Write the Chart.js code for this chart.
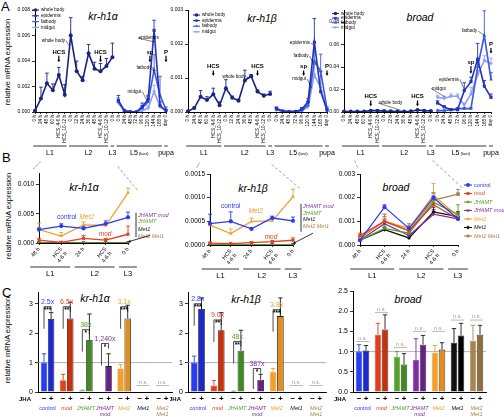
<!DOCTYPE html>
<html>
<head>
<meta charset="utf-8">
<title>kr-h1 / broad expression</title>
<script src="https://cdn.jsdelivr.net/npm/chart.js@4.4.1/dist/chart.umd.min.js"></script>
<style>
  body { margin:0; width:504px; height:417px; position:relative; overflow:hidden; background:#fff;
         font-family:"Liberation Sans", Arial, sans-serif; }
  canvas { position:absolute; }
  .lbl { position:absolute; white-space:nowrap; line-height:1; color:#000; }
  .panel { font-size:13px; }
  .title { font-size:10.5px; font-style:italic; transform:translate(-50%,-50%); }
  .ytitle { font-size:7.5px; transform:translate(-50%,-50%) rotate(-90deg); }
  .zoomline { position:absolute; height:0; border-top:1px dashed #b8b8b8; transform-origin:0 0; }
</style>
</head>
<body>
<div class="lbl panel" style="left:1px;top:0px">A</div>
<div class="lbl panel" style="left:2px;top:151px">B</div>
<div class="lbl panel" style="left:2px;top:286px">C</div>

<div class="lbl ytitle" style="left:8px;top:62px">relative mRNA expression</div>
<div class="lbl ytitle" style="left:9px;top:216px">relative mRNA expression</div>
<div class="lbl ytitle" style="left:8px;top:340px">relative mRNA expression</div>

<div class="lbl title" style="left:103px;top:16px">kr-h1α</div>
<div class="lbl title" style="left:262px;top:18px">kr-h1β</div>
<div class="lbl title" style="left:420px;top:17px">broad</div>
<div class="lbl title" style="left:84px;top:187px">kr-h1α</div>
<div class="lbl title" style="left:253px;top:188px">kr-h1β</div>
<div class="lbl title" style="left:396px;top:187px">broad</div>
<div class="lbl title" style="left:95px;top:298px">kr-h1α</div>
<div class="lbl title" style="left:246px;top:299px">kr-h1β</div>
<div class="lbl title" style="left:408px;top:299px">broad</div>

<script>
var FONT = '"Liberation Sans", Arial, sans-serif';
Chart.defaults.font.family = FONT;
Chart.defaults.color = '#000';

// ---------- A: developmental time course ----------
var timeA = ['0 h', '24 h', '48 h', '60 h', 'HCS_4-6 h', 'HCS_10-12 h', '0 h', '12 h', '24 h', '36 h', '48 h',
             'HCS_4-6 h', 'HCS_10-12 h', '0 h', '0 h', '24 h', '48 h', '72 h', '96 h', '120 h', '144 h', '168 h', 'day 0'];
var stageA = ['L1', 'L2', 'L3', 'L5', 'pupa'];
var stageFromA = [0, 6, 13, 14, 22];
var stageToA = [5, 12, 13, 21, 22];
var tissuesA = ['whole body', 'epidermis', 'fatbody', 'midgut'];

// whole body: L1..L3 (14 points); tissues: L5..pupa (9 points)
var krh1a_whole = [0.0001, 0.00105, 0.00225, 0.0017, 0.0029, 0.00135, 0.0060, 0.0032, 0.0025, 0.0046, 0.0034, 0.0032, 0.0036, 0.0043];
var krh1a_wholeErr = [0.00005, 0.0009, 0.0008, 0.0005, 0.0006, 0.0008, 0.0014, 0.0008, 0.0003, 0.0007, 0.0005, 0.0006, 0.0006, 0.0011];
var krh1a_epi = [0.0009, 0.0001, 0.00002, 0.00001, 0.0004, 0.0010, 0.0064, 0.0005, 0.0001];
var krh1a_epiErr = [0.0004, 0.0001, 0, 0, 0.0003, 0.0003, 0.0008, 0.0003, 0.0001];
var krh1a_fat = [0.0008, 0.0001, 0.00002, 0.00001, 0.0003, 0.0008, 0.0033, 0.0013, 0.0002];
var krh1a_fatErr = [0.0003, 0.0001, 0, 0, 0.0002, 0.0004, 0.0012, 0.0015, 0.0002];
var krh1a_mid = [0.0007, 0.0001, 0.00002, 0.00001, 0.0001, 0.0003, 0.0016, 0.0004, 0.0001];
var krh1a_midErr = [0.0002, 0.0001, 0, 0, 0.0001, 0.0002, 0.0005, 0.0003, 0.0001];

var krh1b_whole = [0.00002, 0.00012, 0.00045, 0.00035, 0.00052, 0.0002, 0.0007, 0.00042, 0.00033, 0.00093, 0.00105, 0.0006, 0.00048, 0.00053];
var krh1b_wholeErr = [0.00001, 0.00003, 0.00018, 0.0001, 0.00018, 0.0001, 0.00025, 0.00005, 0.00005, 0.0003, 0.00005, 0.00005, 0.00005, 0.00008];
var krh1b_epi = [0.0001, 0.00003, 0.00001, 0.00001, 0.00008, 0.0003, 0.00205, 0.0006, 0.00005];
var krh1b_epiErr = [0.00005, 0.00001, 0, 0, 0.00005, 0.0001, 0.0007, 0.0006, 0.00005];
var krh1b_fat = [0.00008, 0.00002, 0.00001, 0.00001, 0.00005, 0.0002, 0.0015, 0.0012, 0.0001];
var krh1b_fatErr = [0.00004, 0.00001, 0, 0, 0.00003, 0.0001, 0.0003, 0.0005, 0.00005];
var krh1b_mid = [0.00006, 0.00002, 0.00001, 0.00001, 0.00003, 0.00015, 0.0011, 0.0007, 0.00008];
var krh1b_midErr = [0.00003, 0.00001, 0, 0, 0.00002, 0.0001, 0.0003, 0.0003, 0.00004];

var broad_whole = [0.0004, 0.0004, 0.0005, 0.0005, 0.0012, 0.0012, 0.0008, 0.0006, 0.0005, 0.0005, 0.0006, 0.0018, 0.0012, 0.0009];
var broad_wholeErr = [0.0002, 0.0002, 0.0002, 0.0002, 0.0004, 0.0003, 0.0002, 0.0002, 0.0002, 0.0002, 0.0002, 0.0004, 0.0003, 0.0002];
var broad_epi = [0.008, 0.0045, 0.002, 0.002, 0.019, 0.027, 0.047, 0.023, 0.013];
var broad_epiErr = [0.002, 0.001, 0.001, 0.001, 0.007, 0.004, 0.014, 0.005, 0.003];
var broad_fat = [0.0012, 0.0012, 0.002, 0.003, 0.003, 0.003, 0.040, 0.068, 0.029];
var broad_fatErr = [0.0005, 0.0005, 0.0005, 0.001, 0.001, 0.001, 0.006, 0.022, 0.006];
var broad_mid = [0.013, 0.012, 0.014, 0.014, 0.006, 0.016, 0.033, 0.046, 0.043];
var broad_midErr = [0.002, 0.002, 0.002, 0.002, 0.002, 0.006, 0.004, 0.004, 0.005];

// ---------- B: knock-out lines, L1-L3 ----------
var timeB = [['48 h'], ['HCS', '4-6 h'], ['24 h'], ['HCS', '4-6 h'], ['0 h']];
var stageB = ['L1', 'L2', 'L3'];
var stageFromB = [0, 2, 4];
var stageToB = [1, 3, 4];
var genotypes = ['control', 'mod', 'JHAMT', 'JHAMT mod', 'Met2', 'Met1', 'Met2 Met1'];

var krh1aB = [
  [0.0023, 0.0029, 0.0025, 0.0033, 0.0044],
  [0.0005, 0.0001, 0.0008, 0.0005, 0.0015],
  [0.00003, 0.00002, 0.00003, 0.00002, 0.00003],
  [0.00001, 0.00001, 0.00001, 0.00001, 0.00001],
  [0.0023, 0.0012, 0.0031, 0.0030, 0.0086],
  [0.00001, 0.00001, 0.00001, 0.00001, 0.00001],
  [0.00001, 0.00001, 0.00001, 0.00001, 0.00001]
];
var krh1aBErr = [
  [0.0003, 0.0004, 0.0003, 0.0005, 0.0009],
  [0.0003, 0.0002, 0.0005, 0.0003, 0.0014],
  [0, 0, 0, 0, 0], [0, 0, 0, 0, 0],
  [0.0011, 0.0006, 0.0005, 0.0004, 0.0008],
  [0, 0, 0, 0, 0], [0, 0, 0, 0, 0]
];
var krh1bB = [
  [0.00045, 0.0005, 0.00034, 0.00057, 0.00051],
  [0.00004, 0.00003, 0.00005, 0.00007, 0.0001],
  [0.000005, 0.000005, 0.000005, 0.000005, 0.000005],
  [0.000003, 0.000003, 0.000003, 0.000003, 0.000003],
  [0.00042, 0.00024, 0.0005, 0.00051, 0.00102],
  [0.000003, 0.000003, 0.000003, 0.000003, 0.000003],
  [0.000003, 0.000003, 0.000003, 0.000003, 0.000003]
];
var krh1bBErr = [
  [0.0002, 0.0002, 0.00002, 0.00004, 0.00008],
  [0.00002, 0.00001, 0.00002, 0.00002, 0.00005],
  [0, 0, 0, 0, 0], [0, 0, 0, 0, 0],
  [0.00003, 0.0001, 0.00007, 0.00004, 0.00016],
  [0, 0, 0, 0, 0], [0, 0, 0, 0, 0]
];
var broadB = [
  [0.0002, 0.0016, 0.0007, 0.0020, 0.0011],
  [0.0004, 0.0010, 0.0006, 0.0017, 0.0011],
  [0.0002, 0.0007, 0.0005, 0.0018, 0.0013],
  [0.0002, 0.0009, 0.0004, 0.0013, 0.0011],
  [0.0003, 0.0010, 0.0007, 0.0021, 0.0012],
  [0.0002, 0.00065, 0.0003, 0.0014, 0.0012],
  [0.0003, 0.0010, 0.0006, 0.0019, 0.00215]
];
var broadBErr = [
  [0.0001, 0.0001, 0.0002, 0.0002, 0.0002],
  [0.0001, 0.0002, 0.0002, 0.0003, 0.0002],
  [0.0001, 0.0001, 0.0001, 0.0003, 0.0004],
  [0.0001, 0.0002, 0.0001, 0.0002, 0.0002],
  [0.0001, 0.0003, 0.0002, 0.0005, 0.0002],
  [0.0001, 0.0001, 0.0001, 0.0002, 0.0002],
  [0.0001, 0.0003, 0.0002, 0.0003, 0.0002]
];

// ---------- C: JHA treatment, fold of untreated control ----------
var krh1aMinus = [1.0, 0.4, 0.05, 0.0, 0.8, 0.0, 0.0];
var krh1aMinusErr = [0.3, 0.2, 0.01, 0, 0.13, 0, 0];
var krh1aPlus = [2.48, 2.5, 1.77, 0.88, 2.5, 0.0, 0.0];
var krh1aPlusErr = [0.22, 0.55, 0.88, 0.42, 0.45, 0, 0];
var krh1aSig = ['***', '**', '*', '*', '***', 'n.s.', 'n.s.'];
var krh1aFold = ['2.5x', '6.5x', '38x', '1,240x', '3.1x', '', ''];

var krh1bMinus = [1.0, 0.22, 0.02, 0.0, 0.68, 0.0, 0.0];
var krh1bMinusErr = [0.22, 0.17, 0.01, 0, 0.12, 0, 0];
var krh1bPlus = [2.82, 2.1, 1.4, 0.42, 2.58, 0.0, 0.0];
var krh1bPlusErr = [0.38, 0.6, 0.7, 0.18, 0.62, 0, 0];
var krh1bSig = ['***', '**', '**', '*', '***', 'n.s.', 'n.s.'];
var krh1bFold = ['2.8x', '9.0x', '48x', '387x', '3.8x', '', ''];

var broadMinus = [1.0, 1.42, 0.87, 0.8, 0.97, 1.22, 1.27];
var broadMinusErr = [0.17, 0.28, 0.13, 0.52, 0.18, 0.35, 0.38];
var broadPlus = [1.03, 1.55, 0.68, 1.17, 1.05, 1.4, 1.42];
var broadPlusErr = [0.12, 0.36, 0.27, 0.23, 0.17, 0.3, 0.23];
var broadSig = ['n.s.', 'n.s.', 'n.s.', 'n.s.', 'n.s.', 'n.s.', 'n.s.'];
var broadFold = ['', '', '', '', '', '', ''];

// colours
var tissueColors = ['#1b2480', '#2334b8', '#3d57e6', '#8f9ef4'];
var genoColors = ['#2a3cf2', '#e0401c', '#55a02e', '#7d2ea0', '#f0a030', '#111111', '#a88550'];
var genoDark = ['#1a2ad0', '#c9300e', '#3f8a22', '#65208a', '#e08e22', '#000000', '#8f6f3e'];

// ---------- helpers ----------
function pad(arr, before, after) {
  var out = [];
  for (var i = 0; i < before; i++) out.push(null);
  out = out.concat(arr);
  for (var j = 0; j < after; j++) out.push(null);
  return out;
}

function makeCanvas(box) {
  var c = document.createElement('canvas');
  c.width = box.w; c.height = box.h;
  c.style.left = box.l + 'px'; c.style.top = box.t + 'px';
  c.style.width = box.w + 'px'; c.style.height = box.h + 'px';
  document.body.appendChild(c);
  return c;
}

// layout padding so that the plot area lands on "area" (page pixels)
function padFor(box, area, yW, xH) {
  return { left: area.l - box.l - yW, top: area.t - box.t, right: box.l + box.w - area.r, bottom: box.t + box.h - area.b - xH };
}

function yScale(max, step, digits, size, yW) {
  return {
    min: 0, max: max,
    ticks: { stepSize: step, includeBounds: false, font: { size: size }, padding: 2,
             callback: function (v) { return v.toFixed(digits); } },
    grid: { drawOnChartArea: false, color: '#000', lineWidth: 0.8, tickLength: 3 },
    border: { color: '#000', width: 1 },
    afterFit: function (s) { s.width = yW; }
  };
}

function xScale(rot, size, xH, offset, show) {
  return {
    type: 'category', offset: offset,
    ticks: { display: show, autoSkip: false, maxRotation: rot, minRotation: rot, font: { size: size }, padding: 1 },
    grid: { display: show, drawOnChartArea: false, color: '#000', lineWidth: 0.8, tickLength: 2 },
    border: { display: true, color: '#000', width: 1 },
    afterFit: function (s) { s.height = xH; }
  };
}

function line(ctx, x1, y1, x2, y2) {
  ctx.beginPath(); ctx.moveTo(x1, y1); ctx.lineTo(x2, y2); ctx.stroke();
}

function arrow(ctx, x1, y1, x2, y2, col, head, lw) {
  ctx.strokeStyle = col; ctx.fillStyle = col; ctx.lineWidth = lw || 0.9;
  var ang = Math.atan2(y2 - y1, x2 - x1);
  line(ctx, x1, y1, x2 - head * 0.6 * Math.cos(ang), y2 - head * 0.6 * Math.sin(ang));
  ctx.beginPath(); ctx.moveTo(x2, y2);
  ctx.lineTo(x2 - head * Math.cos(ang - 0.5), y2 - head * Math.sin(ang - 0.5));
  ctx.lineTo(x2 - head * Math.cos(ang + 0.5), y2 - head * Math.sin(ang + 0.5));
  ctx.closePath(); ctx.fill();
}

// error bars, notes, stage bars, legends and brackets drawn on top of the chart
function extras(cfg) {
  return {
    id: 'extras',
    beforeDatasetsDraw: function (chart) {
      var ctx = chart.ctx, ys = chart.scales.y, a = chart.chartArea;
      ctx.save();
      if (cfg.refLine != null) {
        ctx.strokeStyle = '#a0a0a0'; ctx.lineWidth = 0.8;
        var ry = ys.getPixelForValue(cfg.refLine);
        line(ctx, a.left, ry, a.right, ry);
      }
      (cfg.errors || []).forEach(function (err, di) {
        if (!err) return;
        var ds = chart.data.datasets[di], meta = chart.getDatasetMeta(di);
        var col = (cfg.errColors && cfg.errColors[di]) || ds.borderColor;
        meta.data.forEach(function (el, i) {
          var v = ds.data[i];
          if (v == null || !err[i]) return;
          var top = ys.getPixelForValue(v + err[i]);
          var cap = cfg.cap || 2;
          ctx.strokeStyle = Array.isArray(col) ? col[i] : col;
          ctx.lineWidth = cfg.errWidth || 0.9;
          ctx.beginPath();
          ctx.moveTo(el.x, el.y); ctx.lineTo(el.x, top);
          ctx.moveTo(el.x - cap, top); ctx.lineTo(el.x + cap, top);
          ctx.stroke();
        });
      });
      ctx.restore();
    },
    afterDraw: function (chart) {
      var ctx = chart.ctx, xs = chart.scales.x, ys = chart.scales.y, a = chart.chartArea;
      ctx.save();
      ctx.textBaseline = 'middle';

      (cfg.notes || []).forEach(function (n) {
        var px = n.right != null ? a.right + n.right : xs.getPixelForValue(n.x);
        var py = ys.getPixelForValue(n.y);
        var size = n.size || 5;
        var col = n.color || '#000';
        ctx.font = (n.italic ? 'italic ' : '') + (n.bold ? 'bold ' : '') + size + 'px ' + FONT;
        ctx.fillStyle = col;
        ctx.textAlign = n.align || 'center';
        ctx.fillText(n.text, px, py);
        var w = ctx.measureText(n.text).width;
        if (n.arrowTo != null) arrow(ctx, px, py + size * 0.6, px, ys.getPixelForValue(n.arrowTo), col, 3, 1.2);
        if (n.lineTo) {
          var tx = xs.getPixelForValue(n.lineTo[0]), ty = ys.getPixelForValue(n.lineTo[1]);
          var left = n.align === 'left' ? px : px - w / 2;
          var sx = tx > left + w ? left + w + 1 : left - 1;
          ctx.strokeStyle = '#000'; ctx.lineWidth = 0.5;
          line(ctx, sx, py, tx, ty);
        }
      });

      if (cfg.side) {
        var S = cfg.side;
        ctx.strokeStyle = '#000'; ctx.lineWidth = 0.8;
        line(ctx, a.right + S.dx, ys.getPixelForValue(S.from), a.right + S.dx, ys.getPixelForValue(S.to));
        arrow(ctx, a.right + S.ax, ys.getPixelForValue(S.ay), xs.getPixelForValue(S.tx), ys.getPixelForValue(S.ty), '#000', 3, 0.8);
      }

      if (cfg.legend) {
        var L = cfg.legend;
        var lx = (L.outside ? a.right : a.left) + L.dx;
        chart.data.datasets.forEach(function (ds, i) {
          var yy = a.top + L.dy + i * L.gap;
          ctx.strokeStyle = ds.borderColor; ctx.fillStyle = ds.borderColor; ctx.lineWidth = 1.1;
          line(ctx, lx, yy, lx + L.len, yy);
          Chart.helpers.drawPoint(ctx, { pointStyle: ds.pointStyle, radius: L.r, rotation: ds.pointRotation || 0, borderWidth: 0 }, lx + L.len / 2, yy);
          ctx.font = (L.italic && i > 0 ? 'italic ' : '') + L.size + 'px ' + FONT;
          ctx.fillStyle = L.textColors ? L.textColors[i] : '#000';
          ctx.textAlign = 'left';
          ctx.fillText(ds.label, lx + L.len + 2, yy);
        });
      }

      if (cfg.groups) {
        var g = cfg.groups;
        var step = xs.getPixelForValue(1) - xs.getPixelForValue(0);
        g.labels.forEach(function (lab, k) {
          var x1 = xs.getPixelForValue(g.from[k]) - step * g.ext;
          var x2 = xs.getPixelForValue(g.to[k]) + step * g.ext;
          var ly = a.bottom + g.dy;
          ctx.strokeStyle = '#000'; ctx.lineWidth = 0.8;
          line(ctx, x1, ly, x2, ly);
          var cx = (x1 + x2) / 2;
          ctx.fillStyle = '#000';
          ctx.font = g.size + 'px ' + FONT;
          var sub = g.sub ? g.sub[k] : '';
          if (sub) {
            var w1 = ctx.measureText(lab).width;
            ctx.font = (g.size * 0.62) + 'px ' + FONT;
            var w2 = ctx.measureText(sub).width;
            var sx = cx - (w1 + w2 + 1) / 2;
            ctx.textAlign = 'left';
            ctx.font = g.size + 'px ' + FONT;
            ctx.fillText(lab, sx, ly + g.ty);
            ctx.font = (g.size * 0.62) + 'px ' + FONT;
            ctx.fillText(sub, sx + w1 + 1, ly + g.ty + 1);
          } else {
            ctx.textAlign = 'center';
            ctx.fillText(lab, cx, ly + g.ty);
          }
        });
      }

      if (cfg.pairs) {
        var P = cfg.pairs, m0 = chart.getDatasetMeta(0).data, m1 = chart.getDatasetMeta(1).data;
        var yb = a.bottom;
        ctx.textAlign = 'center'; ctx.textBaseline = 'middle';
        ctx.font = 'bold 6px ' + FONT; ctx.fillStyle = '#000';
        ctx.fillText('JHA', a.left - 13, yb + 7);
        chart.data.labels.forEach(function (lab, i) {
          var xm = m0[i].x, xp = m1[i].x, cx = (xm + xp) / 2, col = genoColors[i];
          ctx.textBaseline = 'middle';
          ctx.font = 'bold 8px ' + FONT; ctx.fillStyle = '#000';
          ctx.fillText('\u2212', xm, yb + 7); ctx.fillText('+', xp, yb + 7);
          ctx.font = (i === 0 ? '' : 'italic ') + '5.5px ' + FONT; ctx.fillStyle = col;
          lab.split(' ').forEach(function (p, k) { ctx.fillText(p, cx, yb + 16 + k * 6); });
          var h = P.heights[i];
          if (h == null) return;
          var yB = ys.getPixelForValue(h);
          if (P.sig[i] === 'n.s.') {
            ctx.strokeStyle = '#9a9a9a'; ctx.lineWidth = 0.7;
            line(ctx, xm - 3, yB, xp + 3, yB);
            ctx.font = '5.5px ' + FONT; ctx.fillStyle = '#9a9a9a'; ctx.textBaseline = 'bottom';
            ctx.fillText('n.s.', cx, yB - 0.5);
          } else {
            var minusTop = ys.getPixelForValue(chart.data.datasets[0].data[i] + P.errMinus[i]);
            var legEnd = Math.min(yB + 22, minusTop - 3);
            ctx.strokeStyle = '#000'; ctx.lineWidth = 0.7;
            ctx.beginPath(); ctx.moveTo(xm, legEnd); ctx.lineTo(xm, yB); ctx.lineTo(xp, yB); ctx.lineTo(xp, yB + 5); ctx.stroke();
            ctx.font = 'bold 6.5px ' + FONT; ctx.fillStyle = '#000'; ctx.textBaseline = 'top';
            ctx.fillText(P.sig[i], cx, yB + 0.5);
            ctx.font = '7px ' + FONT; ctx.fillStyle = col; ctx.textBaseline = 'bottom';
            ctx.fillText(P.fold[i], cx, yB - 1);
          }
        });
      }
      ctx.restore();
    }
  };
}

// ---------- chart builders ----------
function timeChart(box, area, s) {
  var series = [pad(s.whole, 0, 9), pad(s.epi, 14, 0), pad(s.fat, 14, 0), pad(s.mid, 14, 0)];
  var errs = [pad(s.wholeErr, 0, 9), pad(s.epiErr, 14, 0), pad(s.fatErr, 14, 0), pad(s.midErr, 14, 0)];
  var styles = ['circle', 'rect', 'triangle', 'triangle'];
  var datasets = tissuesA.map(function (name, i) {
    return {
      label: name, data: series[i], borderColor: tissueColors[i], backgroundColor: tissueColors[i],
      pointBackgroundColor: tissueColors[i], pointBorderWidth: 0, pointStyle: styles[i],
      pointRotation: i === 3 ? 180 : 0, pointRadius: i === 0 ? 2 : 2.2, borderWidth: 1.6, spanGaps: false
    };
  });
  new Chart(makeCanvas(box), {
    type: 'line',
    data: { labels: timeA, datasets: datasets },
    options: {
      responsive: false, animation: false,
      layout: { padding: padFor(box, area, 20, 34) },
      plugins: { legend: { display: false }, tooltip: { enabled: false } },
      scales: { x: xScale(90, 4.6, 34, false, true), y: yScale(s.max, s.step, s.digits, 5, 20) }
    },
    plugins: [extras({
      errors: errs, cap: 1.8, notes: s.notes, legend: s.legend,
      groups: { labels: stageA, sub: ['', '', '', '(last)', ''], from: stageFromA, to: stageToA, ext: 0.3, dy: 34, ty: 7, size: 7 }
    })]
  });
}

function genoChart(box, area, s) {
  var styles = ['circle', 'rect', 'triangle', 'triangle', 'triangle', 'rectRot', 'rect'];
  var datasets = genotypes.map(function (name, i) {
    return {
      label: name, data: s.values[i], borderColor: genoColors[i], backgroundColor: genoColors[i],
      pointBackgroundColor: genoColors[i], pointBorderWidth: 0, pointStyle: styles[i],
      pointRotation: i === 3 ? 180 : 0, pointRadius: i === 6 ? 2.6 : 2.1, borderWidth: 1.3
    };
  });
  new Chart(makeCanvas(box), {
    type: 'line',
    data: { labels: timeB, datasets: datasets },
    options: {
      responsive: false, animation: false,
      layout: { padding: padFor(box, area, s.yW, 22) },
      plugins: { legend: { display: false }, tooltip: { enabled: false } },
      scales: { x: xScale(50, 5.5, 22, false, true), y: yScale(s.max, s.step, s.digits, 6.5, s.yW) }
    },
    plugins: [extras({
      errors: s.errors, cap: 2, notes: s.notes, side: s.side, legend: s.legend,
      groups: { labels: stageB, from: stageFromB, to: stageToB, ext: 0.4, dy: 24, ty: 6.5, size: 7.5 }
    })]
  });
}

function jhaChart(box, area, s) {
  new Chart(makeCanvas(box), {
    type: 'bar',
    data: {
      labels: genotypes,
      datasets: [
        { label: '\u2212', data: s.minus, backgroundColor: genoColors, borderColor: genoColors, borderWidth: 0.6,
          categoryPercentage: 0.74, barPercentage: 0.92 },
        { label: '+', data: s.plus, backgroundColor: genoDark, borderColor: '#1a1a1a', borderWidth: 0.8,
          categoryPercentage: 0.74, barPercentage: 0.92 }
      ]
    },
    options: {
      responsive: false, animation: false,
      layout: { padding: padFor(box, area, s.yW, 1) },
      plugins: { legend: { display: false }, tooltip: { enabled: false } },
      scales: { x: xScale(0, 6, 1, true, false), y: yScale(s.max, s.step, s.digits, 7, s.yW) }
    },
    plugins: [extras({
      refLine: 1, errors: [s.minusErr, s.plusErr], cap: 2.2,
      errColors: [genoColors, genoColors.map(function () { return '#1a1a1a'; })],
      pairs: { heights: s.heights, sig: s.sig, fold: s.fold, errMinus: s.minusErr }
    })]
  });
}

// ---------- A ----------
timeChart({ l: 12, t: 0, w: 170, h: 160 }, { l: 35, t: 10, r: 166, b: 112 }, {
  whole: krh1a_whole, wholeErr: krh1a_wholeErr, epi: krh1a_epi, epiErr: krh1a_epiErr,
  fat: krh1a_fat, fatErr: krh1a_fatErr, mid: krh1a_mid, midErr: krh1a_midErr,
  max: 0.008, step: 0.002, digits: 3,
  legend: { dx: -3, dy: 0, gap: 5.8, len: 7, r: 1.7, size: 4.6 },
  notes: [
    { x: 3.1, y: 0.0056, text: 'whole body', size: 4.6, lineTo: [5.7, 0.0052] },
    { x: 4, y: 0.0047, text: 'HCS', bold: true, size: 6, arrowTo: 0.0039 },
    { x: 11, y: 0.0047, text: 'HCS', bold: true, size: 6, arrowTo: 0.0039 },
    { x: 19.1, y: 0.0058, text: 'epidermis', size: 4.6, lineTo: [20, 0.0055] },
    { x: 18.3, y: 0.0035, text: 'fatbody', size: 4.6, lineTo: [20, 0.0031] },
    { x: 16.7, y: 0.0016, text: 'midgut', size: 4.6, lineTo: [18.8, 0.0009] },
    { x: 19.3, y: 0.0047, text: 'sp', bold: true, size: 6, arrowTo: 0.0039 },
    { x: 22, y: 0.0047, text: 'P', bold: true, size: 6, arrowTo: 0.0039 }
  ]
});

timeChart({ l: 166, t: 0, w: 172, h: 160 }, { l: 188, t: 10, r: 327, b: 112 }, {
  whole: krh1b_whole, wholeErr: krh1b_wholeErr, epi: krh1b_epi, epiErr: krh1b_epiErr,
  fat: krh1b_fat, fatErr: krh1b_fatErr, mid: krh1b_mid, midErr: krh1b_midErr,
  max: 0.003, step: 0.001, digits: 3,
  legend: { dx: 5, dy: 5, gap: 5.6, len: 7, r: 1.7, size: 4.6 },
  notes: [
    { x: 7.3, y: 0.00105, text: 'whole body', size: 4.6, lineTo: [9.6, 0.00097] },
    { x: 4, y: 0.00133, text: 'HCS', bold: true, size: 6, arrowTo: 0.00106 },
    { x: 11, y: 0.00133, text: 'HCS', bold: true, size: 6, arrowTo: 0.00106 },
    { x: 17.7, y: 0.00204, text: 'epidermis', size: 4.6, lineTo: [20, 0.00195] },
    { x: 17.9, y: 0.00165, text: 'fatbody', size: 4.6, lineTo: [19.9, 0.0014] },
    { x: 17.6, y: 0.00097, text: 'midgut', size: 4.6, lineTo: [19.6, 0.0007] },
    { x: 18.3, y: 0.00133, text: 'sp', bold: true, size: 6, arrowTo: 0.00106 },
    { x: 22, y: 0.00133, text: 'P', bold: true, size: 6, arrowTo: 0.00106 }
  ]
});

timeChart({ l: 322, t: 0, w: 182, h: 160 }, { l: 344, t: 10, r: 491, b: 112 }, {
  whole: broad_whole, wholeErr: broad_wholeErr, epi: broad_epi, epiErr: broad_epiErr,
  fat: broad_fat, fatErr: broad_fatErr, mid: broad_mid, midErr: broad_midErr,
  max: 0.0907, step: 0.02, digits: 2,
  legend: { dx: -12, dy: 3.5, gap: 4.6, len: 7, r: 1.7, size: 4.6 },
  notes: [
    { x: 7, y: 0.008, text: 'whole body', size: 4.6, lineTo: [8.5, 0.0015] },
    { x: 4, y: 0.0135, text: 'HCS', bold: true, size: 6, arrowTo: 0.005 },
    { x: 11, y: 0.0135, text: 'HCS', bold: true, size: 6, arrowTo: 0.005 },
    { x: 15.7, y: 0.029, text: 'epidermis', size: 4.6, lineTo: [18, 0.02] },
    { x: 14.2, y: 0.021, text: 'midgut', size: 4.6, lineTo: [15.1, 0.0135] },
    { x: 18.8, y: 0.072, text: 'fatbody', size: 4.6, lineTo: [21, 0.068] },
    { x: 19, y: 0.044, text: 'sp', bold: true, size: 6, arrowTo: 0.034 },
    { x: 22, y: 0.060, text: 'P', bold: true, size: 6, arrowTo: 0.052 }
  ]
});

// ---------- B ----------
genoChart({ l: 12, t: 165, w: 165, h: 115 }, { l: 39, t: 173, r: 128, b: 243 }, {
  values: krh1aB, errors: krh1aBErr, max: 0.012, step: 0.005, digits: 3, yW: 22,
  notes: [
    { x: 1.25, y: 0.0044, text: 'control', color: genoColors[0], size: 6.5 },
    { x: 2.15, y: 0.0045, text: 'Met2', color: genoColors[4], italic: true, size: 6.5 },
    { x: 2.97, y: 0.0015, text: 'mod', color: genoColors[1], italic: true, size: 6.5 },
    { right: 10, y: 0.00466, text: 'JHAMT mod', color: genoColors[3], italic: true, size: 5.5, align: 'left' },
    { right: 10, y: 0.00362, text: 'JHAMT', color: genoColors[2], italic: true, size: 5.5, align: 'left' },
    { right: 10, y: 0.0024, text: 'Met1', color: genoColors[5], italic: true, size: 5.5, align: 'left' },
    { right: 10, y: 0.0012, text: 'Met2 Met1', color: genoColors[6], italic: true, size: 5.5, align: 'left' }
  ],
  side: { dx: 8, from: 0.0052, to: 0.0010, ax: 22, ay: 0.0013, tx: 4, ty: 0.0002 }
});

genoChart({ l: 175, t: 165, w: 160, h: 115 }, { l: 210, t: 174, r: 293, b: 245 }, {
  values: krh1bB, errors: krh1bBErr, max: 0.0015, step: 0.0005, digits: 4, yW: 25,
  notes: [
    { x: 1.0, y: 0.00081, text: 'control', color: genoColors[0], size: 6.5 },
    { x: 2.2, y: 0.00072, text: 'Met2', color: genoColors[4], italic: true, size: 6.5 },
    { x: 2.94, y: 0.000175, text: 'mod', color: genoColors[1], italic: true, size: 6.5 },
    { right: 10, y: 0.00081, text: 'JHAMT mod', color: genoColors[3], italic: true, size: 5.5, align: 'left' },
    { right: 10, y: 0.00067, text: 'JHAMT', color: genoColors[2], italic: true, size: 5.5, align: 'left' },
    { right: 10, y: 0.00053, text: 'Met1', color: genoColors[5], italic: true, size: 5.5, align: 'left' },
    { right: 10, y: 0.00039, text: 'Met2 Met1', color: genoColors[6], italic: true, size: 5.5, align: 'left' }
  ],
  side: { dx: 8, from: 0.00087, to: 0.00028, ax: 20, ay: 0.00025, tx: 4, ty: 0.00003 }
});

genoChart({ l: 330, t: 165, w: 174, h: 115 }, { l: 360, t: 174, r: 458, b: 245 }, {
  values: broadB, errors: broadBErr, max: 0.003, step: 0.001, digits: 3, yW: 22,
  notes: [],
  legend: { outside: true, dx: 6, dy: 11, gap: 8.5, len: 8, r: 2, size: 5.5, italic: true, textColors: genoColors }
});

// ---------- C ----------
jhaChart({ l: 12, t: 282, w: 165, h: 135 }, { l: 38, t: 292, r: 172, b: 392 }, {
  minus: krh1aMinus, minusErr: krh1aMinusErr, plus: krh1aPlus, plusErr: krh1aPlusErr,
  sig: krh1aSig, fold: krh1aFold, max: 3.4, step: 1, digits: 0, yW: 16,
  heights: [2.9, 2.9, 2.12, 1.65, 2.9, 0.22, 0.22]
});

jhaChart({ l: 170, t: 282, w: 160, h: 135 }, { l: 188, t: 292, r: 326, b: 392 }, {
  minus: krh1bMinus, minusErr: krh1bMinusErr, plus: krh1bPlus, plusErr: krh1bPlusErr,
  sig: krh1bSig, fold: krh1bFold, max: 3.4, step: 1, digits: 0, yW: 14,
  heights: [3.0, 2.45, 1.72, 0.8, 2.8, 0.22, 0.22]
});

jhaChart({ l: 330, t: 282, w: 174, h: 135 }, { l: 353, t: 291, r: 486, b: 392 }, {
  minus: broadMinus, minusErr: broadMinusErr, plus: broadPlus, plusErr: broadPlusErr,
  sig: broadSig, fold: broadFold, max: 2.5, step: 0.5, digits: 1, yW: 18,
  heights: [1.25, 1.97, 1.1, 1.5, 1.5, 1.78, 1.78]
});

// dashed guide lines from the stage bar of A to the zoomed panels of B
function zoomLine(x1, y1, x2, y2) {
  var d = document.createElement('div');
  d.className = 'zoomline';
  var len = Math.sqrt((x2 - x1) * (x2 - x1) + (y2 - y1) * (y2 - y1));
  d.style.left = x1 + 'px'; d.style.top = y1 + 'px'; d.style.width = len + 'px';
  d.style.transform = 'rotate(' + Math.atan2(y2 - y1, x2 - x1) + 'rad)';
  document.body.appendChild(d);
}
zoomLine(41, 162, 33, 170);
zoomLine(118, 166, 138, 190);
zoomLine(200, 163, 197, 168);
zoomLine(272, 164, 300, 188);
zoomLine(355, 160, 358, 167);
zoomLine(433, 160, 462, 187);
</script>
</body>
</html>
